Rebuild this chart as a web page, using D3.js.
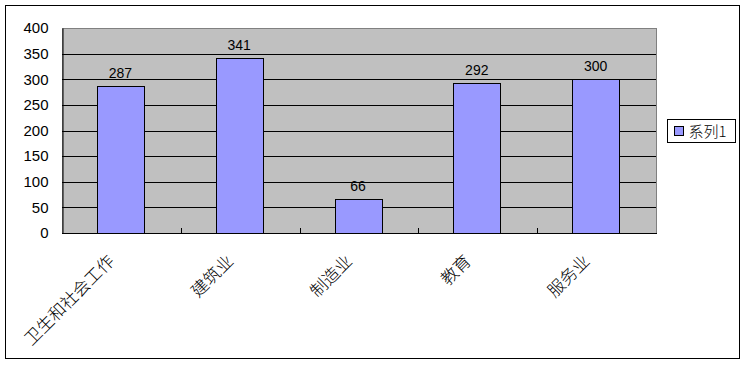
<!DOCTYPE html>
<html>
<head>
<meta charset="utf-8" />
<title>系列1</title>
<script src="https://d3js.org/d3.v7.min.js"></script>
<style type="text/css">
body { margin: 0; background: #fff; }
</style>
</head>
<body>
<div id="chart"></div>
<script type="text/javascript">
var categories = ["卫生和社会工作", "建筑业", "制造业", "教育", "服务业"];
var values = [287, 341, 66, 292, 300];
var yTicks = [0, 50, 100, 150, 200, 250, 300, 350, 400];
var seriesName = "系列1";

var width = 747,
    height = 365;

var plot = {left: 62, right: 656, top: 28, bottom: 233};

var svg = d3.select("#chart")
    .append("svg")
    .attr("width", width)
    .attr("height", height);

// outer frame
svg.append("rect")
    .attr("x", 5.5).attr("y", 5.5)
    .attr("width", 734).attr("height", 353)
    .attr("fill", "#fff")
    .attr("stroke", "#000");

var x = d3.scaleBand()
    .domain(categories)
    .range([plot.left, plot.right]);

var y = d3.scaleLinear()
    .domain([0, 400])
    .range([plot.bottom, plot.top]);

// plot area
svg.append("rect")
    .attr("x", plot.left + 0.5).attr("y", plot.top + 0.5)
    .attr("width", plot.right - plot.left).attr("height", plot.bottom - plot.top)
    .attr("fill", "#c0c0c0")
    .attr("stroke", "#808080");

svg.selectAll(".grid")
    .data(yTicks.filter(d => d > 0 && d < 400))
    .enter()
    .append("line")
    .attr("x1", plot.left).attr("x2", plot.right)
    .attr("y1", d => Math.round(y(d)) + 0.5)
    .attr("y2", d => Math.round(y(d)) + 0.5)
    .attr("stroke", "#000");

var bw = 47;
svg.selectAll(".bar")
    .data(values)
    .enter()
    .append("rect")
    .attr("x", (d, i) => Math.round(x(categories[i]) + x.bandwidth() / 2 - bw / 2 - 1) + 0.5)
    .attr("y", d => Math.round(y(d)) + 0.5)
    .attr("width", bw)
    .attr("height", d => Math.round(y(0)) - Math.round(y(d)))
    .attr("fill", "#9999ff")
    .attr("stroke", "#000");

svg.selectAll(".val")
    .data(values)
    .enter()
    .append("text")
    .attr("x", (d, i) => x(categories[i]) + x.bandwidth() / 2 - 1)
    .attr("y", d => y(d) - 8)
    .attr("text-anchor", "middle")
    .attr("font-family", "Liberation Sans, sans-serif")
    .attr("font-size", 14)
    .text(d => d);

// y axis
var yAxis = d3.axisLeft(y).tickValues(yTicks).tickSize(0).tickPadding(14);
var gY = svg.append("g")
    .attr("transform", "translate(" + (plot.left + 0.5) + ",0)")
    .call(yAxis);
gY.select(".domain").attr("stroke", "#000");
gY.selectAll("text")
    .attr("font-family", "Liberation Sans, sans-serif")
    .attr("font-size", 15)
    .attr("fill", "#000");

// x axis line and inward ticks at category boundaries
svg.append("line")
    .attr("x1", plot.left).attr("x2", plot.right + 1)
    .attr("y1", plot.bottom + 0.5).attr("y2", plot.bottom + 0.5)
    .attr("stroke", "#000");
svg.selectAll(".xtick")
    .data(categories.slice(1))
    .enter()
    .append("line")
    .attr("x1", d => Math.round(x(d)) + 0.5)
    .attr("x2", d => Math.round(x(d)) + 0.5)
    .attr("y1", plot.bottom - 5).attr("y2", plot.bottom)
    .attr("stroke", "#000");

svg.selectAll(".xlab")
    .data(categories)
    .enter()
    .append("text")
    .attr("transform", d => "translate(" + (x(d) + x.bandwidth() / 2 - 10) + "," + (plot.bottom + 25) + ") rotate(-45)")
    .attr("text-anchor", "end")
    .attr("dy", "0.35em")
    .attr("font-family", "Noto Sans CJK SC, sans-serif")
    .attr("font-weight", 300)
    .attr("font-size", 17)
    .text(d => d);

// legend
var lg = svg.append("g").attr("transform", "translate(667.5,119.5)");
lg.append("rect")
    .attr("width", 68).attr("height", 23)
    .attr("fill", "#fff").attr("stroke", "#000");
lg.append("rect")
    .attr("x", 7).attr("y", 7)
    .attr("width", 9).attr("height", 9)
    .attr("fill", "#9999ff").attr("stroke", "#000");
lg.append("text")
    .attr("x", 21).attr("y", 17)
    .attr("font-family", "Noto Sans CJK SC, sans-serif")
    .attr("font-weight", 300)
    .attr("font-size", 15)
    .text(seriesName);
</script>
</body>
</html>
